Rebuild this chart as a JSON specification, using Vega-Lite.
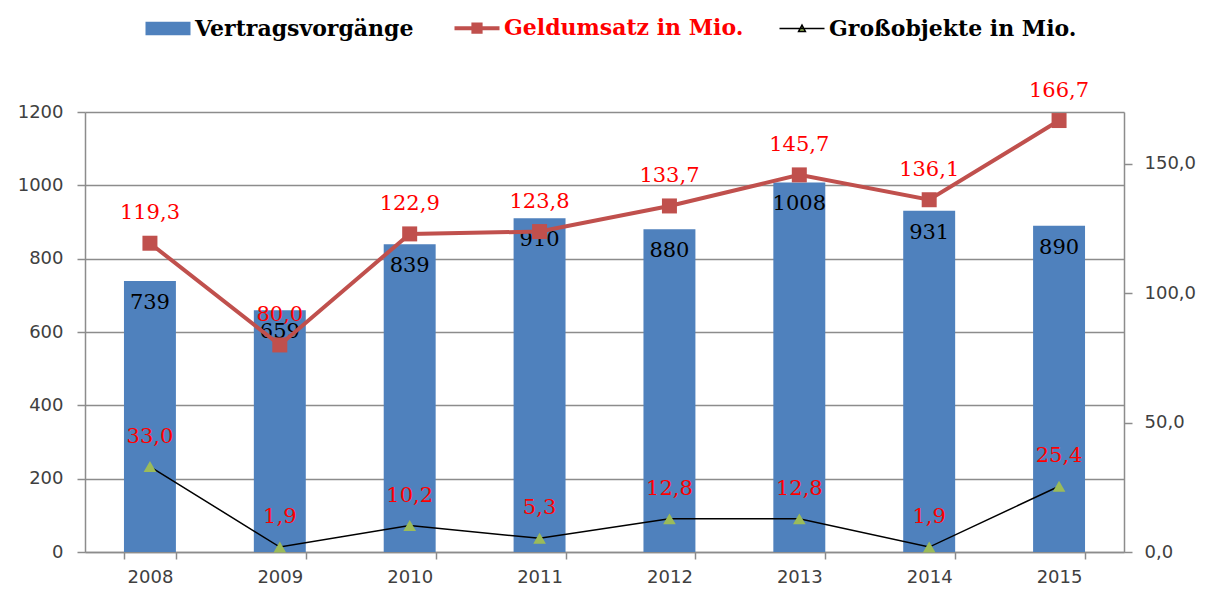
{
  "$schema": "https://vega.github.io/schema/vega-lite/v6.json",
  "width": 1039,
  "height": 440,
  "autosize": {"type": "none"},
  "padding": {"left": 85, "top": 112, "right": 86, "bottom": 38},
  "background": "white",
  "config": {
    "view": {"stroke": null},
    "locale": {"number": {"decimal": ",", "thousands": ".", "grouping": [3], "currency": ["", " €"]}},
    "axis": {
      "labelFont": "DejaVu Sans",
      "labelFontSize": 18,
      "labelColor": "#404040",
      "domainColor": "#8c8c8c",
      "tickColor": "#8c8c8c",
      "gridColor": "#8c8c8c",
      "domainWidth": 1.5,
      "tickWidth": 1.5,
      "gridWidth": 1.3,
      "tickSize": 8,
      "title": null
    }
  },
  "datasets": {
    "d": [
      {"year": "2008", "vv": 739, "geld": 119.3, "gross": 33.0},
      {"year": "2009", "vv": 659, "geld": 80.0, "gross": 1.9},
      {"year": "2010", "vv": 839, "geld": 122.9, "gross": 10.2},
      {"year": "2011", "vv": 910, "geld": 123.8, "gross": 5.3},
      {"year": "2012", "vv": 880, "geld": 133.7, "gross": 12.8},
      {"year": "2013", "vv": 1008, "geld": 145.7, "gross": 12.8},
      {"year": "2014", "vv": 931, "geld": 136.1, "gross": 1.9},
      {"year": "2015", "vv": 890, "geld": 166.7, "gross": 25.4}
    ]
  },
  "data": {"name": "d"},
  "encoding": {
    "x": {
      "field": "year",
      "type": "ordinal",
      "scale": {"paddingInner": 0.6, "paddingOuter": 0.3},
      "axis": {"tickBand": "extent", "labelAngle": 0, "labelPadding": 9, "tickSize": 7, "grid": false}
    }
  },
  "layer": [
    {
      "layer": [
        {
          "mark": {"type": "bar", "color": "#4F81BD"},
          "encoding": {
            "y": {
              "field": "vv",
              "type": "quantitative",
              "scale": {"domain": [0, 1200], "nice": false},
              "axis": {"orient": "left", "values": [0, 200, 400, 600, 800, 1000, 1200], "grid": true, "labelPadding": 14, "format": "d"}
            },
            "color": {
              "datum": "Vertragsvorgänge",
              "type": "nominal",
              "scale": {
                "domain": ["Vertragsvorgänge", "Geldumsatz in Mio.", "Großobjekte in Mio."],
                "range": ["#4F81BD", "#C0504D", "#9BBB59"]
              },
              "legend": {
                "orient": "none",
                "legendX": 72,
                "legendY": -95,
                "direction": "horizontal",
                "columns": 3,
                "title": null,
                "symbolSize": 2025,
                "labelFont": "DejaVu Serif",
                "labelFontSize": 22,
                "labelFontWeight": "bold",
                "labelColor": "#000000",
                "labelLimit": 500,
                "labelOffset": 16,
                "columnPadding": 32,
                "padding": 0,
                "encode": {
                  "symbols": {
                    "update": {
                      "shape": {"signal": "datum.value == 'Vertragsvorgänge' ? 'M-1,-0.3H1V0.3H-1Z' : (datum.value == 'Geldumsatz in Mio.' ? 'M-1,0H1M-0.16,-0.16H0.16V0.16H-0.16Z' : 'M-1,0H1M-0.15,0.13L0,-0.15L0.15,0.13Z')"},
                      "fill": {"signal": "datum.value == 'Vertragsvorgänge' ? '#4F81BD' : (datum.value == 'Geldumsatz in Mio.' ? '#C0504D' : '#9BBB59')"},
                      "stroke": {"signal": "datum.value == 'Vertragsvorgänge' ? '#4F81BD' : (datum.value == 'Geldumsatz in Mio.' ? '#C0504D' : '#000000')"},
                      "strokeWidth": {"signal": "datum.value == 'Vertragsvorgänge' ? 0 : (datum.value == 'Geldumsatz in Mio.' ? 4 : 1.5)"},
                      "opacity": {"value": 1}
                    }
                  },
                  "labels": {
                    "update": {
                      "fill": {"signal": "datum.value == 'Geldumsatz in Mio.' ? '#FF0000' : '#000000'"}
                    }
                  }
                }
              }
            }
          }
        },
        {
          "mark": {"type": "text", "dy": 22, "baseline": "middle", "font": "DejaVu Serif", "fontSize": 21, "color": "#000000"},
          "encoding": {
            "y": {"field": "vv", "type": "quantitative"},
            "text": {"field": "vv", "type": "quantitative", "format": "d"}
          }
        }
      ]
    },
    {
      "layer": [
        {
          "mark": {"type": "line", "color": "#C0504D", "strokeWidth": 4},
          "encoding": {
            "y": {
              "field": "geld",
              "type": "quantitative",
              "scale": {"domain": [0, 170], "nice": false},
              "axis": {"orient": "right", "values": [0, 50, 100, 150], "format": ".1f", "grid": false, "labelPadding": 12}
            }
          }
        },
        {
          "mark": {"type": "point", "shape": "square", "filled": true, "size": 225, "color": "#C0504D", "opacity": 1},
          "encoding": {"y": {"field": "geld", "type": "quantitative"}}
        },
        {
          "mark": {"type": "line", "color": "#000000", "strokeWidth": 1.5},
          "encoding": {"y": {"field": "gross", "type": "quantitative"}}
        },
        {
          "mark": {"type": "point", "shape": "triangle-up", "filled": true, "size": 160, "color": "#9BBB59", "opacity": 1},
          "encoding": {"y": {"field": "gross", "type": "quantitative"}}
        },
        {
          "mark": {"type": "text", "dy": -30, "baseline": "middle", "font": "DejaVu Serif", "fontSize": 21, "color": "#FF0000"},
          "encoding": {
            "y": {"field": "geld", "type": "quantitative"},
            "text": {"field": "geld", "type": "quantitative", "format": ".1f"}
          }
        },
        {
          "mark": {"type": "text", "dy": -30, "baseline": "middle", "font": "DejaVu Serif", "fontSize": 21, "color": "#FF0000"},
          "encoding": {
            "y": {"field": "gross", "type": "quantitative"},
            "text": {"field": "gross", "type": "quantitative", "format": ".1f"}
          }
        }
      ]
    }
  ],
  "resolve": {"scale": {"y": "independent"}}
}
